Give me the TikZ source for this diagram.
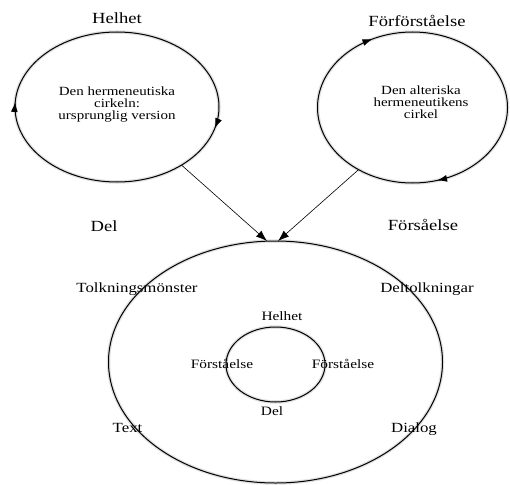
\documentclass[tikz,border=0pt]{standalone}
\usepackage{fontspec}
\setmainfont[FakeStretch = 1.2]{Liberation Serif}
\usetikzlibrary{positioning}
\usetikzlibrary{shapes.geometric}
\usetikzlibrary{decorations.markings}
\usetikzlibrary{arrows.meta}

\begin{document}
\begin{tikzpicture}
[x = 1pt, y = 1pt, line cap = round,
circ/.style = {ellipse, draw, line width = 1pt, inner sep = 0pt, preaction = {draw = black!12, line width = 3.5pt}},
circ arrows/.style 2 args = {postaction = {decorate}, decoration = {markings,
  mark = at position #1 with {\arrowreversed{Latex[length = 10pt, width = 7pt]}},
  mark = at position #2 with {\arrowreversed{Latex[length = 10pt, width = 7pt]}}}},
connector/.style = {-{Latex[length = 11pt, width = 8pt]}, line width = 0.6pt},
top label/.style = {anchor = base, font = \fontsize{15.5}{18}\selectfont},
outer label/.style = {anchor = base, font = \fontsize{14}{16}\selectfont},
inner label/.style = {anchor = base, font = \fontsize{12.8}{15}\selectfont},
circle text/.style = {align = center, font = \fontsize{12.5}{12}\selectfont}]

\useasboundingbox (0, 0) rectangle (510, -484);

\node[circ, minimum width = 204pt, minimum height = 150pt, circ arrows = {0.491}{0.961}] (hcirc) at (117, -107) {};
\node[circ, minimum width = 190pt, minimum height = 151pt, circ arrows = {0.326}{0.796}] (acirc) at (412.5, -107.5) {};
\node[circ, minimum width = 334pt, minimum height = 242pt] (outer) at (275.5, -362) {};
\node[circ, minimum width = 99pt, minimum height = 75pt] (inner) at (275.5, -364.5) {};

\node[circle text] (htext) at (117, -104.5) {Den hermeneutiska\\cirkeln:\\ursprunglig version};
\node[circle text] (atext) at (421, -102) {Den alteriska\\hermeneutikens\\cirkel};

\node[top label] (helhet) at (117, -24) {Helhet};
\node[top label] (forf) at (417, -27) {Förförståelse};
\node[top label] (del) at (104, -231.5) {Del};
\node[top label] (fors) at (423, -230) {Försåelse};

\node[outer label] (tolk) at (137, -292) {Tolkningsmönster};
\node[outer label] (deltolk) at (427, -292) {Deltolkningar};
\node[outer label] (text) at (127.5, -432) {Text};
\node[outer label] (dialog) at (414, -432) {Dialog};

\node[inner label] (ihelhet) at (282, -320.5) {Helhet};
\node[inner label] (forstL) at (222, -368.5) {Förståelse};
\node[inner label] (forstR) at (343, -368.5) {Förståelse};
\node[inner label] (idel) at (272, -415) {Del};

\coordinate (tipL) at (267, -241);
\coordinate (tipR) at (278, -241);
\draw[connector] (hcirc.-42) -- (tipL);
\draw[connector] (acirc.229) -- (tipR);
\end{tikzpicture}
\end{document}
